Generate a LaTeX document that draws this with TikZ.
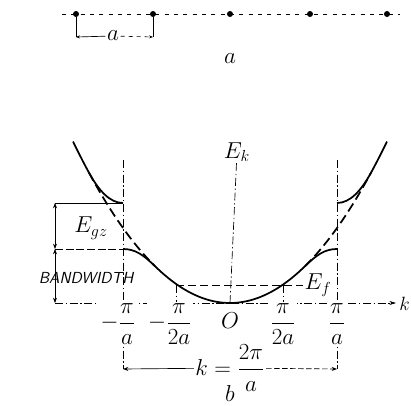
\documentclass[tikz,border=0pt]{standalone}
\usepackage{amsmath}
\usetikzlibrary{positioning, arrows.meta, calc}

\begin{document}
\begin{tikzpicture}[x=0.75pt, y=-0.75pt,
  site/.style={circle, fill=black, inner sep=0pt, minimum size=4.5pt},
  guide/.style={line width=0.5pt, dash pattern=on 6pt off 2pt on 1pt off 2pt},
  chain/.style={line width=0.5pt, dash pattern=on 3pt off 4pt},
  band/.style={line width=1.3pt},
  free/.style={line width=1.3pt, dash pattern=on 7pt off 3.5pt},
  dim/.style={line width=0.5pt, {Stealth[length=4pt,width=3pt]}-{Stealth[length=4pt,width=3pt]}},
  lbl/.style={font=\LARGE, inner sep=1pt},
  tick/.style={lbl, fill=white}]
\useasboundingbox (0,0) rectangle (411,406);

% a: the chain of atoms
\coordinate (chainL) at (62,14);
\coordinate (chainR) at (400,14);
\draw[chain] (chainL) -- (chainR);
\node[site] (s1) at (76,14) {};
\node[site] (s2) at (153,14) {};
\node[site] (s3) at (230,14) {};
\node[site] (s4) at (310,14) {};
\node[site] (s5) at (387,14) {};
\coordinate (br1) at (76,37);
\coordinate (br2) at (153,37);
\node[lbl] (alat) at (113,36) {$a$};
\draw[line width=0.5pt] (s1) -- (br1);
\draw[line width=0.5pt] (s2) -- (br2);
\draw[line width=0.5pt, -{Stealth[length=3pt]}] (alat) -- (br1);
\draw[line width=0.5pt, dash pattern=on 3pt off 3pt, -{Stealth[length=3pt]}] (alat) -- (br2);
\node[lbl] (capa) at (230,59) {$a$};

% b: axes and guides
\coordinate (O) at (230,303);
\coordinate (kL) at (55,303);
\coordinate (kR) at (396,303);
\draw[guide, -{Stealth[length=5pt,width=3pt]}] (kL) -- (kR);
\node[font=\Large, inner sep=0pt, anchor=west] (kax) at (399,304) {$k$};
\node[lbl] (Ek) at (237,152) {$E_k$};
\draw[guide] (Ek) -- (O);

\coordinate (zlt) at (123,160);
\coordinate (zlb) at (123,369);
\coordinate (zrt) at (337,160);
\coordinate (zrb) at (337,369);
\draw[guide] (zlt) -- (zlb);
\draw[guide] (zrt) -- (zrb);

\coordinate (hlt) at (176,285);
\coordinate (hlb) at (176,303);
\coordinate (hrt) at (283,285);
\coordinate (hrb) at (283,303);
\draw[guide] (hlt) -- (hlb);
\draw[guide] (hrt) -- (hrb);

\node[lbl] (Ef) at (318,285) {$E_f$};
\draw[line width=0.5pt, dash pattern=on 6pt off 3pt] (hlt) -- (Ef);

% gap and bandwidth
\coordinate (g1) at (55,203);
\coordinate (g2) at (55,249);
\coordinate (u1) at (123,203);
\coordinate (u2) at (123,249);
\draw[line width=0.5pt] (g1) -- (u1);
\draw[line width=0.5pt, dash pattern=on 6pt off 2pt] (g2) -- (u2);
\draw[dim] (g1) -- (g2);
\draw[dim] (g2) -- (kL);
\node[lbl] (Egz) at (91,228) {$E_{gz}$};
\node[font=\sffamily\itshape\large, inner sep=1pt] (bw) at (86,278) {BANDWIDTH};

% tick labels
\node[tick] (t1) at (118,324) {$-\dfrac{\pi}{a}$};
\node[tick] (t2) at (170,324) {$-\dfrac{\pi}{2a}$};
\node[lbl] (t3) at (230,321) {$O$};
\node[tick] (t4) at (283,324) {$\dfrac{\pi}{2a}$};
\node[tick] (t5) at (337,324) {$\dfrac{\pi}{a}$};

\node[lbl] (kk) at (230,368) {$k=\dfrac{2\pi}{a}$};
\draw[line width=0.5pt, -{Stealth[length=4pt,width=3pt]}] (kk) -- (zlb);
\draw[line width=0.5pt, dash pattern=on 4pt off 2pt, -{Stealth[length=4pt,width=3pt]}] (kk) -- (zrb);
\node[lbl] (capb) at (230,393) {$b$};

% free-electron parabola and the two bands
\draw[band] plot[domain=-1.467:-1.32, samples=12] ({230+107*\x},{303-75*(\x)^2});
\draw[free] plot[domain=-1.32:-0.70, samples=30] ({230+107*\x},{303-75*(\x)^2});
\draw[band] (88.8,172.3) .. controls (98.8,190.8) and (110,203) .. (u1);
\draw[band] (u2) .. controls (135,249) and (143,254.5) .. (155,266.25);
\draw[band] plot[domain=-0.70:0.70, samples=50] ({230+107*\x},{303-75*(\x)^2});
\draw[band] (305,266.25) .. controls (317,254.5) and (325,249) .. (337,249);
\draw[band] (337,203) .. controls (350,203) and (361.2,190.8) .. (371.2,172.3);
\draw[free] plot[domain=0.70:1.32, samples=30] ({230+107*\x},{303-75*(\x)^2});
\draw[band] plot[domain=1.32:1.467, samples=15] ({230+107*\x},{303-75*(\x)^2});
\end{tikzpicture}
\end{document}
